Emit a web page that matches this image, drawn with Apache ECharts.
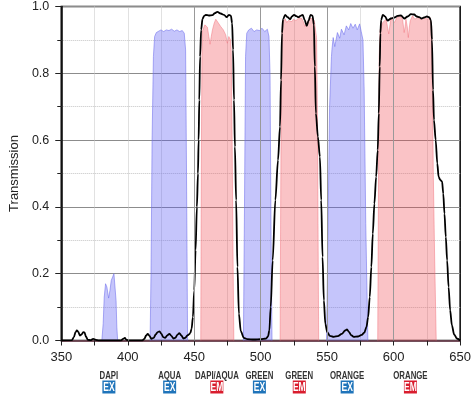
<!DOCTYPE html>
<html><head><meta charset="utf-8">
<script src="https://cdn.jsdelivr.net/npm/echarts@6/dist/echarts.min.js"></script>
<style>html,body{margin:0;padding:0;background:#fff}#c{width:474px;height:395px}</style>
</head><body><div id="c"></div>
<script>
const xTicks=[350,400,450,500,550,600,650];
const yTicks=[0,0.2,0.4,0.6,0.8,1.0];
const xMajorGrid=[450,500,550,600];
const xFaintGrid=[400];
const filterNames=['DAPI','AQUA','DAPI/AQUA','GREEN','GREEN','ORANGE','ORANGE'];
const filterTypes=['EX','EX','EM','EX','EM','EX','EM'];
const filterCenters=[385.8,431.5,467,499,529,565,612.6];

const dapiEx=[[380.5,0],[381.5,0.05],[382.3,0.13],[383.3,0.17],[384.3,0.16],[385.6,0.127],[386.6,0.15],[387.6,0.18],[388.6,0.19],[389.6,0.2],[390.4,0.195],[391.2,0.12],[391.8,0.04],[392.4,0]];
const aquaEx=[[416.8,0],[417.5,0.2],[418.3,0.6],[419.3,0.85],[420.2,0.91],[421.5,0.922],[423,0.925],[425,0.93],[427,0.925],[429,0.93],[431,0.928],[433,0.932],[435,0.926],[437,0.93],[439,0.925],[441,0.928],[442.5,0.92],[443.5,0.87],[444.2,0.5],[445,0]];
const greenEx=[[487,0],[487.8,0.4],[488.6,0.85],[489.5,0.92],[491,0.93],[493,0.935],[495,0.925],[497,0.93],[499,0.928],[501,0.935],[503,0.925],[505,0.932],[506.2,0.91],[507,0.8],[507.8,0.3],[508.5,0]];
const orangeEx=[[549.5,0],[550.5,0.3],[551.8,0.7],[553.2,0.85],[553.6,0.872],[554.5,0.907],[555.7,0.88],[557.7,0.922],[559.4,0.905],[560.7,0.932],[562.7,0.915],[564.4,0.942],[566.2,0.93],[567.7,0.949],[569.4,0.935],[571.1,0.947],[572.6,0.93],[574.4,0.948],[575.6,0.925],[576.9,0.9],[577.8,0.75],[579,0.35],[580.6,0]];
const dapiAquaEm=[[454.9,0],[455.3,0.5],[455.8,0.88],[456.2,0.927],[458,0.945],[459.9,0.938],[461,0.91],[461.9,0.887],[462.8,0.91],[463.7,0.93],[465,0.95],[466.2,0.962],[467.9,0.952],[469.9,0.94],[471.9,0.93],[473.7,0.915],[474.9,0.89],[476,0.91],[476.6,0.915],[477.3,0.9],[477.8,0.867],[478.5,0.6],[479.2,0.25],[479.8,0]];
const greenEm=[[514.6,0],[515,0.4],[515.6,0.85],[516.2,0.945],[517.2,0.957],[518.4,0.963],[519.6,0.952],[520.8,0.958],[522.1,0.96],[523.5,0.955],[524.6,0.962],[526.5,0.958],[528.4,0.965],[530.8,0.965],[532,0.955],[533.3,0.94],[534.5,0.945],[535.8,0.957],[537,0.965],[538.3,0.97],[539.3,0.963],[540.3,0.957],[541.2,0.93],[542,0.907],[542.6,0.7],[543.1,0.35],[543.6,0]];
const orangeEm=[[588,0],[588.5,0.4],[589.1,0.85],[589.8,0.93],[591.8,0.952],[593,0.955],[594.3,0.962],[595.3,0.94],[596.3,0.918],[597.2,0.945],[598,0.967],[599.3,0.96],[600.5,0.952],[601.5,0.96],[602.5,0.967],[605,0.972],[606.7,0.962],[607.9,0.922],[608.6,0.94],[609.2,0.962],[610.2,0.94],[611,0.907],[611.7,0.935],[612.4,0.957],[614.2,0.972],[615.9,0.962],[617.9,0.967],[620.4,0.962],[622.9,0.967],[625.4,0.962],[627.4,0.967],[628.6,0.94],[629,0.8],[629.8,0.5],[630.8,0.25],[632,0]];
const multiband=[[350,0],[358,0.001],[359.5,0.01],[360.7,0.025],[361.7,0.03],[362.8,0.026],[364,0.015],[365.2,0.018],[366.5,0.025],[367.5,0.024],[368.5,0.012],[370,0.002],[372,0.001],[374,0.005],[376,0.002],[378,0],[395,0],[396.5,0.005],[397.8,0.008],[399,0.002],[401,0],[411,0],[412.5,0.005],[413.8,0.015],[415,0.02],[416.3,0.014],[417.8,0.005],[419.5,0.008],[421,0.018],[422.5,0.025],[423.9,0.027],[425.3,0.02],[426.7,0.01],[428,0.008],[429.7,0.015],[431.3,0.02],[432.8,0.014],[434.3,0.006],[435.8,0.008],[437.3,0.017],[438.8,0.022],[440.3,0.015],[441.8,0.006],[443.2,0.008],[444.8,0.015],[446,0.018],[447,0.022],[448,0.035],[449,0.07],[450,0.15],[451,0.27],[452,0.4],[452.8,0.5],[453.3,0.6],[453.8,0.72],[454.4,0.85],[455.2,0.93],[456.2,0.963],[457.5,0.972],[458.7,0.975],[461,0.973],[463.7,0.974],[465.5,0.98],[467.4,0.984],[469.9,0.979],[472.4,0.975],[474.4,0.968],[476.1,0.975],[477.6,0.972],[478.5,0.95],[479.2,0.87],[479.9,0.72],[480.6,0.58],[481.5,0.42],[482.5,0.22],[483.6,0.08],[485,0.028],[487.3,0.008],[490,0.004],[495,0.003],[500,0.004],[504,0.006],[505.5,0.012],[506.5,0.03],[507.5,0.1],[509,0.24],[511,0.42],[513,0.54],[514.5,0.64],[515.3,0.78],[516,0.92],[516.8,0.962],[518.4,0.975],[520.2,0.968],[522.1,0.962],[523.5,0.97],[525.1,0.975],[526.8,0.971],[528.4,0.968],[530,0.972],[531.6,0.975],[533,0.96],[534.6,0.942],[536,0.958],[537.5,0.975],[539,0.972],[540,0.945],[540.7,0.82],[541.5,0.68],[543,0.61],[544.5,0.55],[545.5,0.42],[546.5,0.25],[547.5,0.12],[548.6,0.05],[550,0.025],[552,0.014],[555,0.011],[558,0.013],[561,0.02],[563.5,0.03],[564.9,0.033],[566.3,0.026],[568,0.016],[570,0.011],[573,0.012],[576,0.017],[578,0.024],[579.5,0.04],[580.8,0.07],[582,0.13],[583.2,0.22],[584.3,0.32],[585.5,0.41],[586.8,0.49],[588,0.57],[588.8,0.68],[589.5,0.82],[590,0.92],[590.6,0.96],[591.8,0.975],[593.5,0.97],[595.5,0.958],[598,0.964],[600.5,0.967],[603,0.972],[605.5,0.973],[608,0.964],[610.5,0.97],[613,0.977],[615.4,0.976],[617.5,0.97],[619.2,0.968],[621,0.964],[622.9,0.967],[625,0.97],[626.6,0.968],[628,0.96],[628.8,0.9],[629.6,0.75],[630.3,0.66],[631.6,0.6],[632.8,0.53],[633.8,0.49],[635,0.481],[636.4,0.476],[637.3,0.44],[638.2,0.38],[639.2,0.31],[640.2,0.24],[641.3,0.16],[642.5,0.09],[643.8,0.045],[645.5,0.018],[647.5,0.006],[650,0]];

const BLUE_FILL='rgba(90,90,245,0.5)', BLUE_LINE='rgba(110,110,235,0.7)';
const RED_FILL='rgba(240,66,77,0.45)', RED_LINE='rgba(240,110,120,0.6)';
const FONT='"Liberation Sans", Arial, sans-serif';

function fill(name,data,isEx){
  return {name,type:'line',data,z:2,showSymbol:false,symbol:'none',silent:true,
    lineStyle:{width:0.8,color:isEx?BLUE_LINE:RED_LINE},
    areaStyle:{color:isEx?BLUE_FILL:RED_FILL,origin:'start'}};
}

const chart=echarts.init(document.getElementById('c'),null,{renderer:'canvas'});
const option={
  animation:false,
  grid:{left:61,right:12,top:5.5,bottom:54.5,show:true,borderColor:'#111',borderWidth:1.6,backgroundColor:'transparent'},
  xAxis:{type:'value',min:xTicks[0],max:xTicks[xTicks.length-1],interval:xTicks[1]-xTicks[0],
    axisLine:{show:true,onZero:false,lineStyle:{color:'#5a2a3a',width:1.6}},
    axisTick:{show:true,length:5,lineStyle:{color:'#222'}},
    minorTick:{show:true,splitNumber:2,length:5,lineStyle:{color:'#222'}},
    axisLabel:{color:'#222',fontSize:13,margin:10,fontFamily:FONT},
    splitLine:{show:false},
    minorSplitLine:{show:true,lineStyle:{color:'#c4c4c4',type:'dotted',width:1}}},
  yAxis:{type:'value',min:yTicks[0],max:yTicks[yTicks.length-1],interval:yTicks[1]-yTicks[0],
    name:'Transmission',nameLocation:'middle',nameGap:40,
    nameTextStyle:{fontSize:13,color:'#222',fontFamily:FONT},
    axisLine:{show:true,lineStyle:{color:'#111',width:1.6}},
    axisTick:{show:true,length:6,lineStyle:{color:'#222'}},
    minorTick:{show:true,splitNumber:2,length:4,lineStyle:{color:'#222'}},
    axisLabel:{color:'#222',fontSize:12.5,margin:12,fontFamily:FONT,formatter:v=>v.toFixed(1)},
    splitLine:{show:true,lineStyle:{color:'#8c8c8c',width:1}},
    minorSplitLine:{show:true,lineStyle:{color:'#c4c4c4',type:'dotted',width:1}}},
  series:[
    {name:'grid',type:'line',data:[],z:1,silent:true,
      markLine:{silent:true,symbol:'none',label:{show:false},animation:false,
        data:[...xMajorGrid.map(v=>({xAxis:v,lineStyle:{color:'#999',width:1,type:'solid'}})),
              ...xFaintGrid.map(v=>({xAxis:v,lineStyle:{color:'#c4c4c4',width:1,type:'dotted'}}))]}},
    fill('DAPI EX',dapiEx,true),
    fill('AQUA EX',aquaEx,true),
    fill('GREEN EX',greenEx,true),
    fill('ORANGE EX',orangeEx,true),
    fill('DAPI/AQUA EM',dapiAquaEm,false),
    fill('GREEN EM',greenEm,false),
    fill('ORANGE EM',orangeEm,false),
    {name:'Multiband',type:'line',data:multiband,z:3,showSymbol:false,symbol:'none',silent:true,
      smooth:0.3,smoothMonotone:'x',lineStyle:{color:'#000',width:1.8}}
  ]
};
chart.setOption(option);

const elements=[];
filterCenters.forEach((c,i)=>{
  const px=chart.convertToPixel({xAxisIndex:0},c);
  const isEx=filterTypes[i]==='EX';
  elements.push({type:'text',x:px,y:375.8,scaleX:0.68,z:10,
    style:{text:filterNames[i],fill:'#333',font:'bold 11.5px '+FONT,textAlign:'center',textVerticalAlign:'middle'}});
  elements.push({type:'rect',shape:{x:px-6.5,y:380.5,width:13,height:13},z:10,
    style:{fill:isEx?'#1f74ba':'#d91d2e'}});
  elements.push({type:'text',x:px,y:387.5,scaleX:0.68,z:11,
    style:{text:filterTypes[i],fill:'#fff',font:'bold 12.5px '+FONT,textAlign:'center',textVerticalAlign:'middle'}});
});
chart.setOption({graphic:{elements}});
</script></body></html>
